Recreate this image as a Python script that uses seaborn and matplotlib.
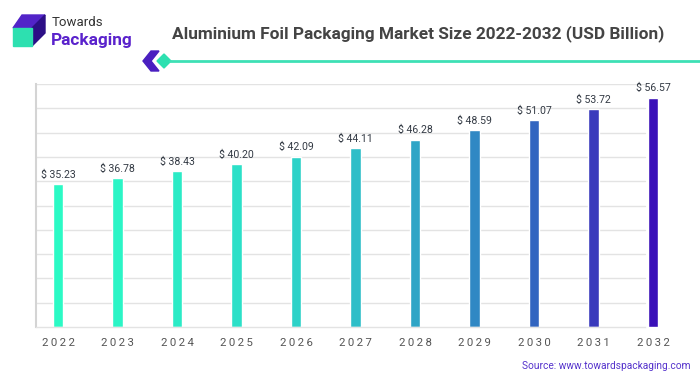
import seaborn as sns
import matplotlib.pyplot as plt
import matplotlib.patches as mpatches
import numpy as np
import pandas as pd

years = ["2022", "2023", "2024", "2025", "2026", "2027", "2028", "2029", "2030", "2031", "2032"]
values = [35.23, 36.78, 38.43, 40.20, 42.09, 44.11, 46.28, 48.59, 51.07, 53.72, 56.57]
bar_colors = ["#2BFAC5", "#2BF5C6", "#2BEBC6", "#2CE0C8", "#2DD2C8", "#2EBEC8",
              "#2FA5C6", "#3088C4", "#3265C0", "#3A3ABC", "#3A10B8"]

df = pd.DataFrame({"Year": years, "Value": values})

sns.set_style("white")
plt.rcParams["font.family"] = ["Roboto", "DejaVu Sans"]

fig = plt.figure(figsize=(7, 3.75), dpi=100)
W, H = 700, 375
x0, x1 = -0.37, 10.5
grid_end = 9.87
ax = fig.add_axes([36 / W, 48 / H, 59.5 * (x1 - x0) / W, 243 / H])

sns.barplot(data=df, x="Year", y="Value", hue="Year", palette=bar_colors,
            legend=False, width=0.18, saturation=1, ax=ax)

for i, v in enumerate(values):
    ax.text(i, v + 1.1, f"$ {v:.2f}", ha="center", va="bottom",
            fontsize=7.6, color="#333a44")

ax.set_yticks(np.arange(0, 61, 6))
ax.set_yticklabels([])
ax.tick_params(axis="y", length=0)
ax.tick_params(axis="x", length=0, pad=8)
ax.set_xticks(range(len(years)))
ax.set_xticklabels(["\u2009".join(y) for y in years], fontsize=8.2, color="#555555")
ax.set_ylim(0, 60)
ax.set_xlim(x0, x1)
ax.set_xlabel("")
ax.set_ylabel("")

# grid lines stop just before the last bar, as in the source
frac = (grid_end - x0) / (x1 - x0)
for yv in np.arange(6, 61, 6):
    ax.axhline(yv, xmin=0, xmax=frac, color="#e3e3e3", linewidth=1, zorder=0)

for s in ["top", "right"]:
    ax.spines[s].set_visible(False)
ax.spines["left"].set_color("#d4d4d4")
ax.spines["left"].set_linewidth(1.5)
ax.spines["bottom"].set_color("#e3e3e3")
ax.spines["bottom"].set_linewidth(1)
ax.spines["bottom"].set_bounds(x0, grid_end)

# title
fig.text(172 / W, 1 - 34 / H, "Aluminium Foil Packaging Market Size 2022-2032 (USD Billion)",
         fontsize=12.4, fontweight="bold", color="#444444", va="center", ha="left")

# logo
def px(pts):
    return [(x / W, 1 - y / H) for x, y in pts]

fig.patches.append(mpatches.Polygon(px([(13, 28), (22, 15), (45, 15), (32, 28)]),
                                    closed=True, color="#5224c8", transform=fig.transFigure))
fig.patches.append(mpatches.Polygon(px([(32, 28), (45, 15), (45, 33), (32, 46)]),
                                    closed=True, color="#2c0f86", transform=fig.transFigure))
fig.patches.append(mpatches.Rectangle((13 / W, 1 - 46 / H), 19 / W, 18 / H,
                                      color="#2de0b0", transform=fig.transFigure))
fig.text(52 / W, 1 - 23 / H, "Towards", fontsize=9.5, color="#333333", va="center")
fig.text(51 / W, 1 - 40 / H, "Packaging", fontsize=12.4, fontweight="bold",
         color="#5a22cc", va="center")

# decorative line with chevron and diamond
fig.patches.append(mpatches.Polygon(px([(151, 51), (159, 51), (151, 61), (159, 71), (151, 71), (143, 61)]),
                                    closed=True, color="#4a1fc0", transform=fig.transFigure))
fig.patches.append(mpatches.Polygon(px([(164, 54), (171, 61), (164, 68), (157, 61)]),
                                    closed=True, color="#2de0b0", transform=fig.transFigure))
fig.lines.append(plt.Line2D([170 / W, 1], [1 - 61 / H, 1 - 61 / H], color="#3ee0b5",
                            linewidth=2, transform=fig.transFigure))

fig.text(690 / W, 1 - 366 / H, "Source: www.towardspackaging.com", fontsize=7.3,
         color="#5533cc", ha="right", va="center")

fig.savefig("out.png", dpi=100)
